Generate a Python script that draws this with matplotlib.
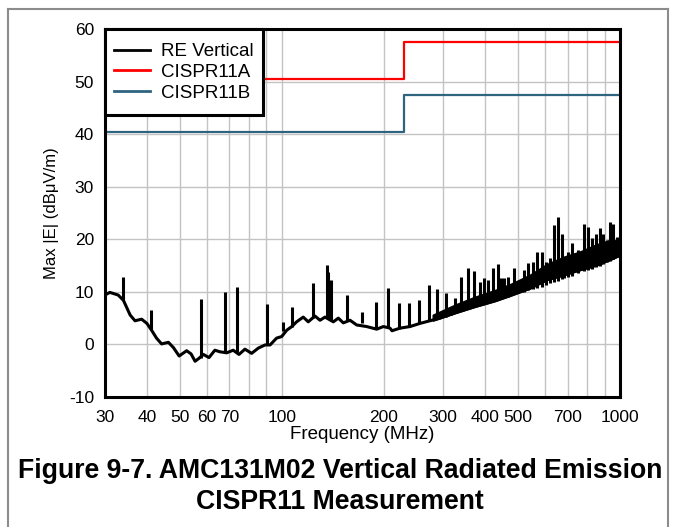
import matplotlib
matplotlib.use("Agg")
import matplotlib.pyplot as plt
from matplotlib.lines import Line2D
from matplotlib.patches import Rectangle
import numpy as np

plt.rcParams['font.family'] = ['Liberation Sans', 'DejaVu Sans']
plt.rcParams['axes.unicode_minus'] = False

# ---- data ----
x_ticks = [30, 40, 50, 60, 70, 100, 200, 300, 400, 500, 700, 1000]
x_tick_labels = ["30", "40", "50", "60", "70", "100", "200", "300", "400", "500", "700", "1000"]
x_grid = [30, 40, 50, 60, 70, 80, 90, 100, 200, 300, 400, 500, 600, 700, 800, 900, 1000]
y_ticks = [-10, 0, 10, 20, 30, 40, 50, 60]

limit_freq = [30, 230, 1000]
cispr11a = [50.5, 57.5, 57.5]
cispr11b = [40.5, 47.5, 47.5]

# measured trace: smooth floor
base_freq = [30.0, 31.0, 32.8, 34.0, 35.6, 36.8, 38.5, 39.9, 41.2, 42.6, 44.1, 46.2,
             47.8, 49.7, 52.3, 53.9, 55.4, 57.0, 58.6, 60.9, 63.4, 65.6, 68.7, 71.8,
             74.7, 77.8, 81.4, 85.2, 89.2, 92.3, 96.5, 99.9, 103.4, 107.0, 110.6, 115.7,
             119.7, 125.3, 129.7, 134.2, 142.0, 146.9, 152.0, 159.1, 166.5, 178.2, 190.8,
             199.6, 208.9, 211.7, 223.6, 239.3, 256.2, 274.2, 293.5, 325.2, 372.5, 426.8,
             472.8, 541.8, 606.9, 679.8, 761.4, 853.2, 955.2, 1000.0]
base_level = [9.4, 9.9, 9.4, 8.4, 5.6, 4.5, 4.8, 4.0, 2.7, 1.2, 0.1, 0.4,
              -0.6, -2.2, -1.2, -1.8, -3.2, -2.6, -1.9, -2.5, -1.1, -1.4, -1.6, -1.1,
              -1.9, -0.9, -1.7, -0.7, -0.1, -0.1, 1.2, 1.5, 2.7, 3.4, 4.3, 5.2,
              4.3, 5.4, 4.6, 5.2, 4.3, 5.0, 4.1, 4.6, 3.7, 3.4, 2.9,
              3.4, 3.1, 2.6, 3.1, 3.4, 4.0, 4.5, 5.0, 6.0, 7.2, 8.3,
              9.3, 10.7, 12.3, 13.2, 14.2, 15.1, 16.4, 17.0]

# noise band above the floor at high frequency
band_freq = [280, 325, 372, 427, 473, 542, 607, 680, 761, 853, 955, 1000]
band_low = [4.6, 6.0, 7.2, 8.3, 9.3, 10.7, 12.3, 13.2, 14.2, 15.1, 16.4, 17.0]
band_high = [5.6, 7.5, 9.0, 10.3, 11.4, 13.2, 15.2, 16.6, 17.6, 19.0, 20.0, 19.0]

# narrow emission spikes
spike_freq = [34.0, 41.0, 57.6, 67.9, 73.8, 90.2, 101.0, 107.0, 123.4, 135.7, 136.9,
              139.8, 156.2, 172.2, 189.5, 206.5, 222.5, 238.2, 255.0, 272.9, 288.2,
              305.7, 316.0, 325.0, 338.6, 354.5, 370.8, 385.5, 395.0, 406.1, 421.9,
              436.5, 446.0, 454.8, 467.4, 486.8, 520.1, 535.6, 554.2, 569.5, 586.7,
              604.2, 620.7, 637.8, 654.3, 672.4, 684.4, 703.2, 719.7, 752.0, 784.2,
              805.9, 824.8, 849.1, 872.6, 892.0, 913.0, 933.8, 955.2, 981.4, 996.0]
spike_base = [8.4, 3.0, -2.5, -1.5, -1.5, -0.1, 2.5, 3.4, 5.0, 5.0, 5.0,
              4.5, 4.5, 4.0, 3.0, 3.2, 3.0, 3.4, 4.0, 4.5, 4.8,
              5.2, 5.6, 6.0, 6.5, 6.8, 7.2, 7.5, 7.8, 8.0, 8.2,
              8.5, 8.7, 8.8, 9.0, 9.5, 10.0, 10.3, 10.5, 10.8, 11.0,
              11.3, 11.6, 11.9, 12.1, 12.4, 12.6, 12.8, 13.0, 13.6, 14.0,
              14.2, 14.4, 14.8, 15.0, 15.3, 15.6, 15.9, 16.2, 16.6, 16.9]
spike_peak = [12.9, 6.5, 8.6, 10.0, 11.0, 7.7, 4.3, 7.2, 11.7, 15.1, 13.8,
              12.3, 9.4, 6.2, 8.1, 10.7, 7.8, 7.8, 8.4, 11.3, 10.5,
              9.7, 6.9, 8.8, 12.9, 14.5, 14.0, 11.9, 12.6, 12.3, 14.5,
              15.3, 12.6, 12.6, 12.8, 14.5, 14.2, 15.5, 15.7, 17.5, 17.5,
              15.7, 16.4, 22.7, 24.3, 21.1, 16.1, 17.6, 19.2, 18.0, 22.9,
              22.4, 20.2, 21.1, 22.1, 21.1, 19.9, 23.2, 22.9, 20.5, 19.0]

# ---- figure ----
fig = plt.figure(figsize=(6.76, 5.27), dpi=100)
ax = fig.add_axes([105/676, 1-397/527, 515/676, 368/527])

ax.set_xscale('log')
ax.set_xlim(30, 1000)
ax.set_ylim(-10, 60)

for xv in x_grid:
    ax.axvline(xv, color='#c3c3c3', lw=1.0, zorder=0)
for yv in y_ticks:
    ax.axhline(yv, color='#c3c3c3', lw=1.0, zorder=0)

black = '#000000'
ax.plot(base_freq, base_level, color=black, lw=2.2, solid_joinstyle='round', zorder=3)
ax.fill_between(band_freq, band_low, band_high, color=black, lw=1.5, zorder=3)
ax.vlines(spike_freq, spike_base, spike_peak, color=black, lw=2.2, zorder=3)

ax.plot(limit_freq, cispr11a, color='#ff0000', lw=1.6, drawstyle='steps-post', zorder=4)
ax.plot(limit_freq, cispr11b, color='#2f6480', lw=1.6, drawstyle='steps-post', zorder=4)

ax.set_xticks(x_ticks)
ax.set_xticklabels(x_tick_labels)
ax.xaxis.set_minor_locator(matplotlib.ticker.NullLocator())
ax.set_yticks(y_ticks)
ax.tick_params(axis='both', length=0, labelsize=12.5)
ax.tick_params(axis='x', pad=9)
ax.tick_params(axis='y', pad=8)

for s in ax.spines.values():
    s.set_linewidth(2.2)
    s.set_color(black)
    s.set_zorder(6)

ax.set_xlabel('Frequency (MHz)', fontsize=13.5, labelpad=1)
ax.set_ylabel('Max |E| (dBμV/m)', fontsize=12, labelpad=7)

# legend box drawn as a patch, entries without frame
ax.add_patch(Rectangle((0, (397-115)/368), 158/515, 86/368, transform=ax.transAxes,
                       facecolor='white', edgecolor=black, lw=2.2, zorder=6.5,
                       clip_on=False))
handles = [Line2D([], [], color=black, lw=2.0),
           Line2D([], [], color='#ff0000', lw=2.0),
           Line2D([], [], color='#2f6480', lw=2.0)]
leg = ax.legend(handles, ['RE Vertical', 'CISPR11A', 'CISPR11B'],
                loc='upper left', bbox_to_anchor=(9.5/515, (397-43)/368), borderaxespad=0,
                fontsize=13.5, frameon=False, handlelength=1.9, handletextpad=0.6,
                labelspacing=0.2, borderpad=0)
leg.set_zorder(7)

# figure border
for xs, ys in [([8/676, 8/676], [0, 1-9/527]), ([668/676, 668/676], [0, 1-9/527]),
               ([8/676, 668/676], [1-9/527, 1-9/527])]:
    fig.add_artist(Line2D(xs, ys, transform=fig.transFigure, color='#8c8c8c', lw=1.5))

fig.text(340/676, 1-471/527, 'Figure 9-7. AMC131M02 Vertical Radiated Emission',
         ha='center', va='center', fontsize=19.2, fontweight='bold')
fig.text(340/676, 1-502/527, 'CISPR11 Measurement',
         ha='center', va='center', fontsize=19.2, fontweight='bold')

fig.savefig('out.png', dpi=100)
